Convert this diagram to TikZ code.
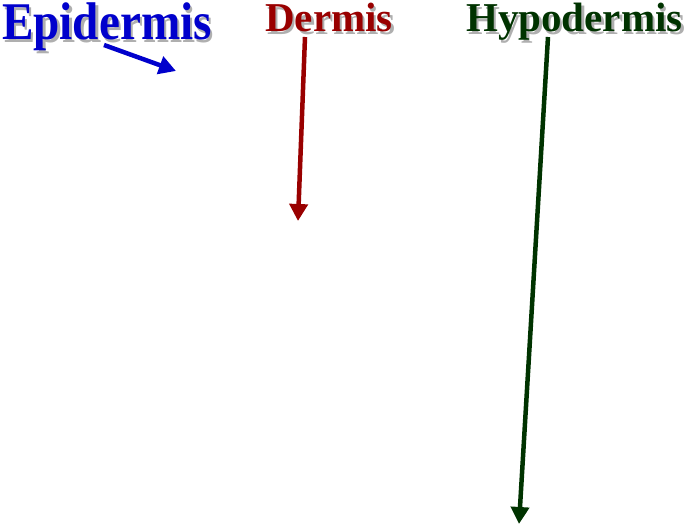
\documentclass[tikz,border=0pt]{standalone}
\usepackage{fontspec}
\setmainfont{Liberation Serif}
\usetikzlibrary{arrows.meta}
\definecolor{epiblue}{RGB}{0,0,204}
\definecolor{derred}{RGB}{153,0,0}
\definecolor{hypgreen}{RGB}{0,51,0}
\definecolor{shade}{RGB}{175,175,175}
\tikzset{
  title/.style={anchor=base west, inner sep=0pt},
  pointer/.style={line width=4.5pt, -{Triangle[length=17pt,width=18pt]}},
}
\begin{document}
\begin{tikzpicture}[x=1pt,y=-1pt]
\useasboundingbox (0,0) rectangle (689,529);
% shadows
\node[title, text=shade, font=\bfseries\fontsize{53}{53}\selectfont, xscale=0.89] (epis) at (4.5,42.5) {Epidermis};
\node[title, text=shade, font=\bfseries\fontsize{41}{41}\selectfont] (ders) at (267.5,34.5) {Dermis};
\node[title, text=shade, font=\bfseries\fontsize{41}{41}\selectfont] (hyps) at (468.5,34.5) {Hypodermis};
% titles
\node[title, text=epiblue, font=\bfseries\fontsize{53}{53}\selectfont, xscale=0.89] (epi) at (2,40) {Epidermis};
\node[title, text=derred, font=\bfseries\fontsize{41}{41}\selectfont] (der) at (265,32) {Dermis};
\node[title, text=hypgreen, font=\bfseries\fontsize{41}{41}\selectfont] (hyp) at (466,32) {Hypodermis};
\coordinate (e1) at (104,45);
\coordinate (e2) at (176,71);
\coordinate (d1) at (305,37);
\coordinate (d2) at (298,221);
\coordinate (h1) at (548,37);
\coordinate (h2) at (519,524);
\draw[pointer, epiblue] (e1) -- (e2);
\draw[pointer, derred] (d1) -- (d2);
\draw[pointer, hypgreen] (h1) -- (h2);
\end{tikzpicture}
\end{document}
